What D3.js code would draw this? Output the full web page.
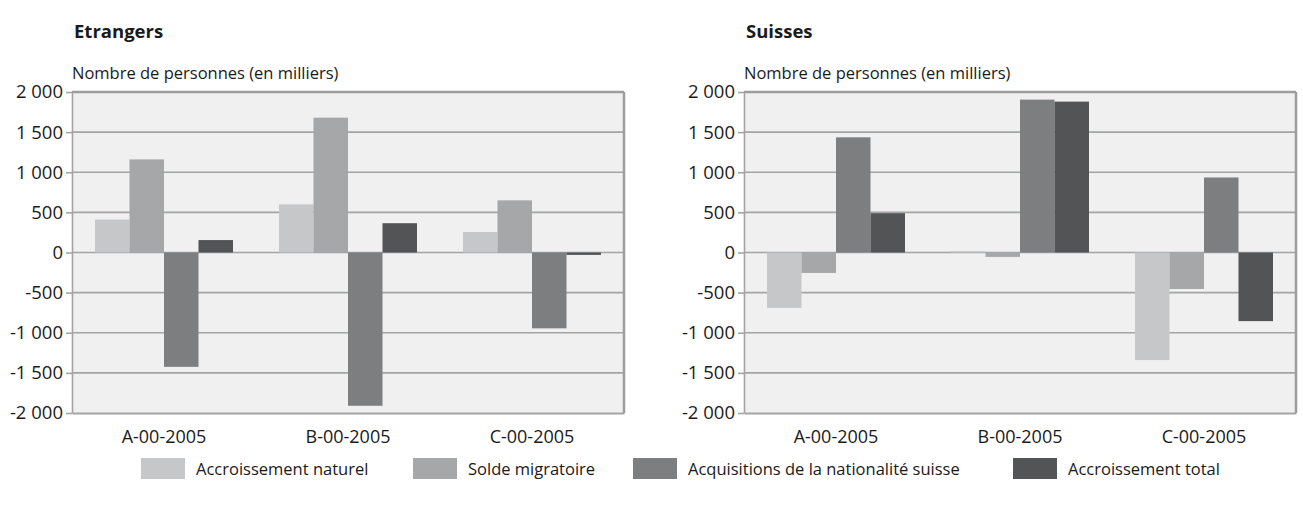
<!DOCTYPE html>
<html>
<head>
<meta charset="utf-8">
<script src="https://cdn.jsdelivr.net/npm/d3@7/dist/d3.min.js"></script>
<style>
  body { margin: 0; background: #fff; }
  text { font-family: "Open Sans", "Noto Sans", sans-serif; fill: #1a1a1a; }
</style>
</head>
<body>
<div id="chart"></div>
<script>
// values (thousands of persons)
var categories = ["A-00-2005", "B-00-2005", "C-00-2005"];
var seriesNames = ["Accroissement naturel", "Solde migratoire", "Acquisitions de la nationalité suisse", "Accroissement total"];
var seriesColors = ["#c6c7c9", "#a6a7a9", "#7d7e80", "#535456"];

var etrangersNaturel = [410, 600, 255];
var etrangersMigratoire = [1160, 1680, 650];
var etrangersAcquisitions = [-1425, -1910, -945];
var etrangersTotal = [155, 365, -30];

var suissesNaturel = [-690, 15, -1340];
var suissesMigratoire = [-255, -55, -455];
var suissesAcquisitions = [1435, 1905, 935];
var suissesTotal = [490, 1880, -855];

var tickValues = [-2000, -1500, -1000, -500, 0, 500, 1000, 1500, 2000];
var tickLabels = ["-2 000", "-1 500", "-1 000", "-500", "0", "500", "1 000", "1 500", "2 000"];

var W = 1303, H = 505;
var svg = d3.select("#chart").append("svg").attr("width", W).attr("height", H);

var panels = [
  { title: "Etrangers", left: 72, series: [etrangersNaturel, etrangersMigratoire, etrangersAcquisitions, etrangersTotal] },
  { title: "Suisses", left: 744, series: [suissesNaturel, suissesMigratoire, suissesAcquisitions, suissesTotal] }
];
var plotW = 552, plotTop = 92, plotBottom = 413;

var y = d3.scaleLinear().domain([-2000, 2000]).range([plotBottom, plotTop]);

panels.forEach(function(p) {
  var g = svg.append("g").attr("transform", "translate(" + p.left + ",0)");

  var x0 = d3.scaleBand().domain(categories).range([0, plotW]).paddingInner(0.25).paddingOuter(0.125);
  var x1 = d3.scaleBand().domain(d3.range(seriesNames.length)).range([0, x0.bandwidth()]);

  g.append("text").attr("x", 2).attr("y", 38)
    .style("font-size", "18.5px").style("font-weight", "bold").text(p.title);
  g.append("text").attr("x", 0).attr("y", 79)
    .style("font-size", "16.5px").text("Nombre de personnes (en milliers)");

  g.append("rect").attr("x", 0).attr("y", plotTop).attr("width", plotW).attr("height", plotBottom - plotTop)
    .attr("fill", "#eff0ef");

  // gridlines
  g.selectAll(".grid").data(tickValues.slice(1, -1)).enter().append("line")
    .attr("x1", 0).attr("x2", plotW)
    .attr("y1", function(d) { return y(d); }).attr("y2", function(d) { return y(d); })
    .attr("stroke", "#a3a4a4").attr("stroke-width", 1.6);

  // bars
  var rows = [];
  p.series.forEach(function(vals, si) {
    vals.forEach(function(v, ci) { rows.push({ s: si, c: categories[ci], v: v }); });
  });
  g.selectAll(".bar").data(rows).enter().append("rect")
    .attr("x", function(d) { return x0(d.c) + x1(d.s); })
    .attr("width", x1.bandwidth())
    .attr("y", function(d) { return y(Math.max(0, d.v)); })
    .attr("height", function(d) { return Math.abs(y(d.v) - y(0)); })
    .attr("fill", function(d) { return seriesColors[d.s]; });

  // frame: top and right darker
  g.append("line").attr("x1", 0).attr("x2", plotW).attr("y1", plotTop).attr("y2", plotTop)
    .attr("stroke", "#9c9d9d").attr("stroke-width", 2.5);
  g.append("line").attr("x1", plotW).attr("x2", plotW).attr("y1", plotTop).attr("y2", plotBottom)
    .attr("stroke", "#9c9d9d").attr("stroke-width", 2.5);

  var yAxis = g.append("g").call(d3.axisLeft(y).tickValues(tickValues).tickSize(6).tickSizeOuter(0)
    .tickFormat(function(d, i) { return tickLabels[i]; }));
  yAxis.select(".domain").attr("stroke", "#a3a4a4").attr("stroke-width", 1.6);
  yAxis.selectAll(".tick line").attr("stroke", "#a3a4a4").attr("stroke-width", 1.6);
  yAxis.selectAll(".tick text").attr("x", -9).style("font-size", "18.5px").style("font-family", null);

  var xAxis = g.append("g").attr("transform", "translate(0," + plotBottom + ")")
    .call(d3.axisBottom(x0).tickSize(0).tickPadding(17));
  xAxis.select(".domain").attr("stroke", "#a3a4a4").attr("stroke-width", 1.8);
  xAxis.selectAll(".tick text").style("font-size", "18px").style("font-family", null);
});

// legend
var legendX = [141, 413, 633, 1013];
var leg = svg.append("g").attr("transform", "translate(0,458)");
leg.selectAll("rect").data(seriesNames).enter().append("rect")
  .attr("x", function(d, i) { return legendX[i]; }).attr("y", 0)
  .attr("width", 44).attr("height", 21)
  .attr("fill", function(d, i) { return seriesColors[i]; });
leg.selectAll("text").data(seriesNames).enter().append("text")
  .attr("x", function(d, i) { return legendX[i] + 55; }).attr("y", 16.5)
  .style("font-size", "16.5px").text(function(d) { return d; });
</script>
</body>
</html>
